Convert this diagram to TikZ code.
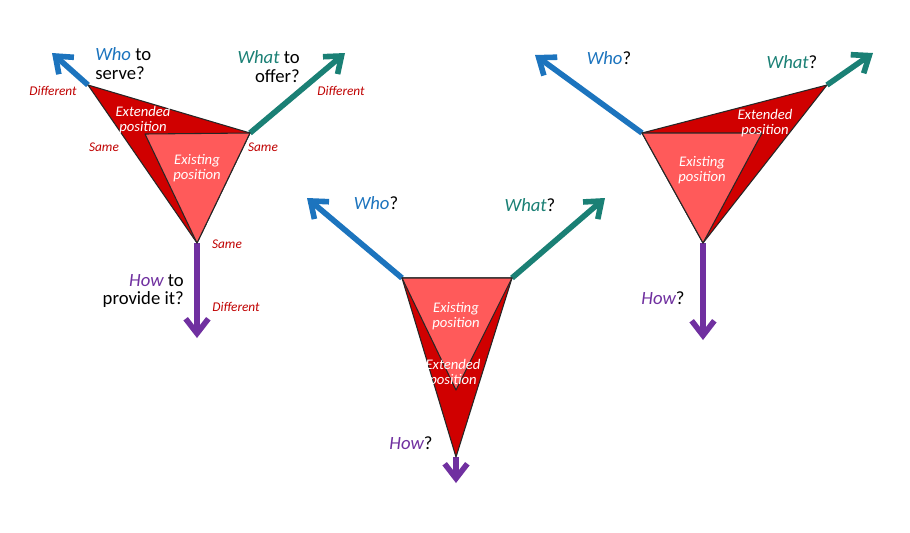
\documentclass[tikz,border=0pt]{standalone}
\usepackage{fontspec}
\setmainfont{Carlito}
\usetikzlibrary{arrows.meta}
\definecolor{cblue}{HTML}{1C74BE}
\definecolor{cteal}{HTML}{1A8075}
\definecolor{cpurple}{HTML}{7030A0}
\definecolor{cdred}{HTML}{C00000}
\definecolor{cexist}{RGB}{255,90,90}
\definecolor{cext}{RGB}{208,0,0}
\begin{document}
\begin{tikzpicture}[x=0.75pt,y=-0.75pt,
  arrowline/.style={line width=4.2pt,-{Straight Barb[length=11pt,width=17pt]}},
  existtri/.style={fill=cexist,draw=black!85,line width=0.8pt,line join=round},
  exttri/.style={fill=cext,draw=black!85,line width=0.8pt,line join=round},
  question/.style={inner sep=0pt,font=\fontsize{14}{14.2}\selectfont},
  note/.style={inner sep=0pt,text=cdred,font=\fontsize{10}{10}\selectfont\itshape},
  tritext/.style={inner sep=0pt,text=white,align=center,font=\fontsize{11}{11}\selectfont\itshape}]
\useasboundingbox (0,0) rectangle (910,532);
\fill[white] (0,0) rectangle (910,532);

% ---------- left diagram ----------
\coordinate (LA) at (88,85);
\coordinate (LB) at (250,133);
\coordinate (LC) at (197,243);
\coordinate (LD) at (145,134);
\coordinate (LWho) at (52,53);
\coordinate (LWhat) at (345,53);
\coordinate (LHow) at (197,338);
\draw[arrowline,cblue] (LA) -- (LWho);
\draw[arrowline,cteal] (LB) -- (LWhat);
\draw[arrowline,cpurple] (LC) -- (LHow);
\draw[exttri] (LA) -- (LB) -- (LC) -- cycle;
\draw[existtri] (LD) -- (LB) -- (LC) -- cycle;
\node[tritext] (Lext) at (143,120) {Extended\\position};
\node[tritext] (Lexist) at (197,168) {Existing\\position};
\node[question,anchor=west,align=left] (Lq1) at (95,64) {\textcolor{cblue}{\itshape Who} to\\serve?};
\node[question,anchor=east,align=right] (Lq2) at (300,67) {\textcolor{cteal}{\itshape What} to\\offer?};
\node[question,anchor=east,align=right] (Lq3) at (184,291) {\textcolor{cpurple}{\itshape How} to\\provide it?};
\node[note] (Ld1) at (53,91) {Different};
\node[note] (Ld2) at (341,91) {Different};
\node[note] (Ld3) at (236,307) {Different};
\node[note] (Ls1) at (104,147) {Same};
\node[note] (Ls2) at (263,147) {Same};
\node[note] (Ls3) at (227,244) {Same};

% ---------- middle diagram ----------
\coordinate (MA) at (402,278);
\coordinate (MB) at (512,278);
\coordinate (MC) at (456,390);
\coordinate (MD) at (456,457);
\coordinate (MWho) at (307,198);
\coordinate (MWhat) at (605,198);
\coordinate (MHow) at (456,483);
\draw[arrowline,cblue] (MA) -- (MWho);
\draw[arrowline,cteal] (MB) -- (MWhat);
\draw[arrowline,cpurple] (MD) -- (MHow);
\draw[exttri] (MA) -- (MB) -- (MD) -- cycle;
\draw[existtri] (MA) -- (MB) -- (MC) -- cycle;
\node[tritext] (Mexist) at (456,316) {Existing\\position};
\node[tritext] (Mext) at (453,373) {Extended\\position};
\node[question] (Mq1) at (376,203) {\textcolor{cblue}{\itshape Who}?};
\node[question] (Mq2) at (530,205) {\textcolor{cteal}{\itshape What}?};
\node[question] (Mq3) at (411,443) {\textcolor{cpurple}{\itshape How}?};

% ---------- right diagram ----------
\coordinate (RA) at (642,133);
\coordinate (RB) at (762,133);
\coordinate (RC) at (703,243);
\coordinate (RD) at (827,85);
\coordinate (RWho) at (535,55);
\coordinate (RWhat) at (873,53);
\coordinate (RHow) at (703,340);
\draw[arrowline,cblue] (RA) -- (RWho);
\draw[arrowline,cteal] (RD) -- (RWhat);
\draw[arrowline,cpurple] (RC) -- (RHow);
\draw[exttri] (RA) -- (RD) -- (RC) -- cycle;
\draw[existtri] (RA) -- (RB) -- (RC) -- cycle;
\node[tritext] (Rexist) at (702,170) {Existing\\position};
\node[tritext] (Rext) at (765,123) {Extended\\position};
\node[question] (Rq1) at (609,58) {\textcolor{cblue}{\itshape Who}?};
\node[question] (Rq2) at (792,62) {\textcolor{cteal}{\itshape What}?};
\node[question] (Rq3) at (663,298) {\textcolor{cpurple}{\itshape How}?};
\end{tikzpicture}
\end{document}
